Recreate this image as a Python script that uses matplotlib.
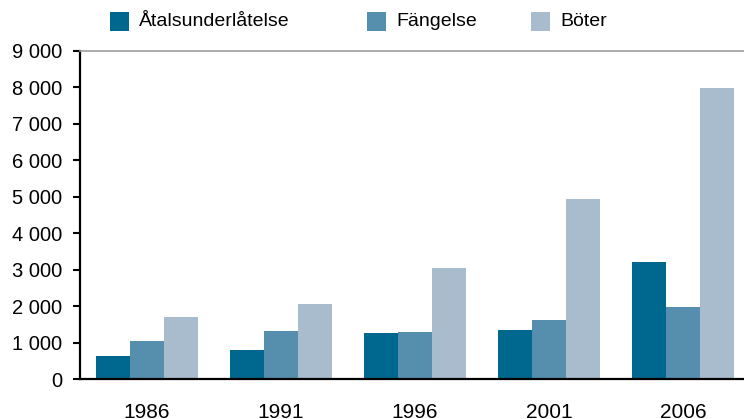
import numpy as np
import matplotlib
matplotlib.use('Agg')
import matplotlib.pyplot as plt
from matplotlib.patches import Rectangle
from matplotlib.ticker import FuncFormatter, MultipleLocator

plt.rcParams['font.family'] = ['Liberation Sans', 'DejaVu Sans']

years = ['1986', '1991', '1996', '2001', '2006']
atalsunderlatelse = [630, 800, 1260, 1350, 3210]
fangelse = [1040, 1320, 1290, 1620, 1980]
boter = [1700, 2060, 3050, 4950, 7990]

series = ['Åtalsunderlåtelse', 'Fängelse', 'Böter']
colors = ['#00688f', '#568fad', '#a8bccd']

fig = plt.figure(figsize=(7.44, 4.19), dpi=100)
ax = fig.add_axes([80 / 744, 1 - 379 / 419, 664 / 744, (379 - 51) / 419])

x = np.arange(len(years))
w = 0.254
for i, (vals, col) in enumerate(zip([atalsunderlatelse, fangelse, boter], colors)):
    ax.bar(x + (i - 1) * w, vals, width=w, color=col, linewidth=0)

ax.set_xlim(-0.5, 4.455)
ax.set_ylim(0, 9000)
ax.yaxis.set_major_locator(MultipleLocator(1000))
ax.yaxis.set_major_formatter(FuncFormatter(lambda v, p: f'{int(v):,}'.replace(',', ' ')))
ax.set_xticks(x)
ax.set_xticklabels(years)

ax.tick_params(axis='x', length=0, pad=17, labelsize=15)
ax.tick_params(axis='y', length=5, width=1.5, direction='out', pad=8, labelsize=14.5)

ax.spines['right'].set_visible(False)
ax.spines['top'].set_color('#a0a0a0')
ax.spines['top'].set_linewidth(1.2)
ax.spines['left'].set_linewidth(1.6)
ax.spines['bottom'].set_linewidth(1.6)

# legend along the top
sq_x = [110, 367, 531]
for sx, lab, col in zip(sq_x, series, colors):
    fig.add_artist(Rectangle((sx / 744, 1 - 31 / 419), 19 / 744, 19 / 419,
                             transform=fig.transFigure, color=col, lw=0))
    fig.text((sx + 29) / 744, 1 - 22 / 419, lab, fontsize=14, va='center', ha='left')

fig.savefig('out.png', dpi=100)
